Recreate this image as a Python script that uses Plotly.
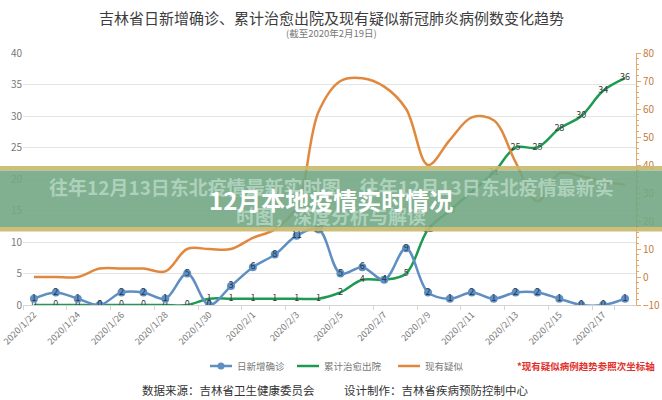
import plotly.graph_objects as go

dates = ["2020/1/22", "2020/1/23", "2020/1/24", "2020/1/25", "2020/1/26", "2020/1/27", "2020/1/28",
         "2020/1/29", "2020/1/30", "2020/1/31", "2020/2/1", "2020/2/2", "2020/2/3", "2020/2/4",
         "2020/2/5", "2020/2/6", "2020/2/7", "2020/2/8", "2020/2/9", "2020/2/10", "2020/2/11",
         "2020/2/12", "2020/2/13", "2020/2/14", "2020/2/15", "2020/2/16", "2020/2/17", "2020/2/18"]
tick_labels = ["2020/1/22", "2020/1/24", "2020/1/26", "2020/1/28", "2020/1/30", "2020/2/1", "2020/2/3",
               "2020/2/5", "2020/2/7", "2020/2/9", "2020/2/11", "2020/2/13", "2020/2/15", "2020/2/17"]

new_confirmed = [1, 2, 1, 0, 2, 2, 1, 5, 0, 3, 6, 8, 11, 12, 5, 6, 4, 9, 2, 1, 2, 1, 2, 2, 1, 0, 0, 1]
discharged = [0, 0, 0, 0, 0, 0, 0, 0, 1, 1, 1, 1, 1, 1, 2, 4, 4, 5, 12, 15, 18, 21, 25, 25, 28, 30, 34, 36]
suspected = [0, 0, 0, 3, 3, 3, 2, 10, 10, 10, 14, 17, 25, 59, 70, 71, 68, 60, 40, 49, 57, 56, 41, 27, 37, 36, 34, 33]

BLUE = "#5f8fc2"
GREEN = "#1f9a52"
ORANGE = "#e0893e"
FONT = "Noto Sans CJK SC"

W, H = 662, 400
L, R, T, B = 23, 26, 53, 95
pw, ph = W - L - R, H - T - B


def px(x):
    return (x - L) / pw


def py(y):
    return (H - B - y) / ph


fig = go.Figure()
fig.add_trace(go.Scatter(x=dates, y=suspected, yaxis="y2", mode="lines", name="现有疑似",
                         line=dict(color=ORANGE, width=2.5, shape="spline")))
fig.add_trace(go.Scatter(x=dates, y=discharged, mode="lines+text", name="累计治愈出院",
                         text=discharged, textposition="middle center",
                         textfont=dict(size=9, color="#3a3a3a"),
                         line=dict(color=GREEN, width=2.5, shape="spline")))
fig.add_trace(go.Scatter(x=dates, y=new_confirmed, mode="lines+markers+text", name="日新增确诊",
                         text=new_confirmed, textposition="middle center",
                         textfont=dict(size=9, color="#23384f"),
                         marker=dict(size=8, color=BLUE),
                         line=dict(color=BLUE, width=2.5, shape="spline")))

fig.update_layout(
    width=W, height=H, margin=dict(l=L, r=R, t=T, b=B, autoexpand=False),
    paper_bgcolor="white", plot_bgcolor="white",
    font=dict(family=FONT, color="#444"),
    showlegend=False,
    xaxis=dict(type="category", range=[-0.5, 27.5], tickvals=tick_labels, tickangle=-45,
               tickfont=dict(size=9, color="#777"), showline=True, linecolor="#d4d4d4",
               ticks="outside", ticklen=4, tickcolor="#d4d4d4", tickson="boundaries",
               showgrid=False, automargin=False),
    yaxis=dict(range=[0, 40], dtick=5, gridcolor="#e4e4e4", zeroline=False, automargin=False,
               tickfont=dict(size=10, color="#777"), fixedrange=True),
    yaxis2=dict(overlaying="y", side="right", range=[-10, 80], dtick=10, showgrid=False,
                zeroline=False, showline=True, linecolor="#e3a76e", ticks="outside", ticklen=4,
                tickcolor="#e3a76e", tickfont=dict(size=10, color="#c47c3c"), automargin=False,
                minor=dict(dtick=2, ticks="outside", ticklen=2, tickcolor="#e3a76e")),
)

ann = []
# title and subtitle
ann.append(dict(x=px(331), y=py(17), text="吉林省日新增确诊、累计治愈出院及现有疑似新冠肺炎病例数变化趋势",
                font=dict(size=15, color="#3c3c3c", family=FONT)))
ann.append(dict(x=px(331), y=py(33), text="(截至2020年2月19日)", font=dict(size=9.5, color="#777", family=FONT)))

# legend drawn by hand
shapes = []
legend_items = [("日新增确诊", BLUE, 210), ("累计治愈出院", GREEN, 297), ("现有疑似", ORANGE, 398)]
for name, col, x0 in legend_items:
    shapes.append(dict(type="line", xref="paper", yref="paper", x0=px(x0), x1=px(x0 + 22),
                       y0=py(366), y1=py(366), line=dict(color=col, width=2.5)))
    ann.append(dict(x=px(x0 + 25), y=py(366), xanchor="left", text=name,
                    font=dict(size=9.5, color="#777", family=FONT)))
shapes.append(dict(type="circle", xref="paper", yref="paper", x0=px(217.5), x1=px(224.5),
                   y0=py(369.5), y1=py(362.5), fillcolor=BLUE, line=dict(width=0)))
ann.append(dict(x=px(515), y=py(366), xanchor="left", text="<b>*现有疑似病例趋势参照次坐标轴</b>",
                font=dict(size=9.5, color="#e2302b", family=FONT)))

# footer
ann.append(dict(x=px(140), y=py(390), xanchor="left", text="数据来源：吉林省卫生健康委员会",
                font=dict(size=11.5, color="#333", family=FONT)))
ann.append(dict(x=px(342), y=py(390), xanchor="left", text="设计制作：吉林省疾病预防控制中心",
                font=dict(size=11.5, color="#333", family=FONT)))

# overlay banner
for y0, y1, col, op in [(166, 170.5, "#c9b96f", 0.92), (170.5, 227, "#72a783", 0.9), (227, 231.5, "#c9b96f", 0.92)]:
    shapes.append(dict(type="rect", xref="paper", yref="paper", x0=px(0), x1=px(662),
                       y0=py(y1), y1=py(y0), fillcolor=col, opacity=op, line=dict(width=0),
                       layer="above"))
ann.append(dict(x=px(331), y=py(186), text="<b>往年12月13日东北疫情最新实时图，往年12月13日东北疫情最新实</b>",
                font=dict(size=19, color="rgba(190,220,204,0.75)", family=FONT)))
ann.append(dict(x=px(331), y=py(216), text="<b>时图，深度分析与解读</b>",
                font=dict(size=19, color="rgba(190,220,204,0.75)", family=FONT)))
ann.append(dict(x=px(331), y=py(200), text="<b>12月本地疫情实时情况</b>",
                font=dict(size=24, color="white", family=FONT)))

for a in ann:
    a.setdefault("xref", "paper")
    a.setdefault("yref", "paper")
    a.setdefault("showarrow", False)
    a.setdefault("yanchor", "middle")
fig.update_layout(annotations=ann, shapes=shapes)

fig.write_html("out.html", config={"displayModeBar": False},
               post_script="document.body.style.margin='0';document.body.style.overflow='hidden';")
